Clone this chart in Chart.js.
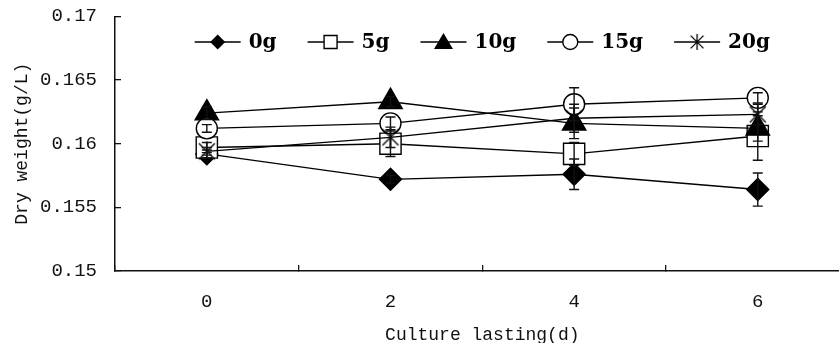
<!DOCTYPE html>
<html>
<head>
<meta charset="utf-8">
<script src="https://cdn.jsdelivr.net/npm/chart.js@4/dist/chart.umd.min.js"></script>
<style>
  html, body { margin: 0; padding: 0; background: #fff; overflow: hidden; }
</style>
</head>
<body>
<!-- wider than the window: the x axis runs on past the right edge -->
<canvas id="myChart" width="866" height="346"></canvas>
<script>
// culture time (days) and dry weight per dose
const days = ['0', '2', '4', '6'];
const doses = ['0g', '5g', '10g', '15g', '20g'];

const dw0g = [0.1592, 0.1572, 0.1576, 0.1564];
const dw5g = [0.1597, 0.1600, 0.1592, 0.1606];
const dw10g = [0.1624, 0.1633, 0.1616, 0.1612];
const dw15g = [0.1612, 0.1616, 0.1631, 0.1636];
const dw20g = [0.1594, 0.1605, 0.1620, 0.1623];

// standard deviations
const sd0g = [0.0003, 0.0003, 0.0012, 0.0013];
const sd5g = [0.0004, 0.0010, 0.0009, 0.0019];
const sd10g = [0.0005, 0.0004, 0.0012, 0.0010];
const sd15g = [0.0003, 0.0005, 0.0013, 0.0004];
const sd20g = [0.0003, 0.0008, 0.0011, 0.0008];

const yTicks = [0.15, 0.155, 0.16, 0.165, 0.17];

const values = [dw0g, dw5g, dw10g, dw15g, dw20g];
const errors = [sd0g, sd5g, sd10g, sd15g, sd20g];

// asterisk marker (vertical bar + X)
function asterisk(r) {
  const c = document.createElement('canvas');
  c.width = c.height = 2 * r + 4;
  const g = c.getContext('2d');
  const m = c.width / 2;
  const d = r * 0.8;
  g.strokeStyle = '#000';
  g.lineWidth = 1.3;
  g.beginPath();
  g.moveTo(m, m - r); g.lineTo(m, m + r);
  g.moveTo(m - d, m - d); g.lineTo(m + d, m + d);
  g.moveTo(m - d, m + d); g.lineTo(m + d, m - d);
  g.stroke();
  return c;
}

const markers = [
  { style: 'rectRot', radius: 11, fill: '#000' },
  { style: 'rect', radius: 15, fill: '#fff' },
  { style: 'triangle', radius: 13.5, fill: '#000' },
  { style: 'circle', radius: 10.5, fill: '#fff' },
  { style: asterisk(10), radius: 10, fill: '#fff' }
];

// small line + marker sample, 46px long, centred on (x, y)
function drawSample(g, i, x, y) {
  g.save();
  g.strokeStyle = '#000';
  g.lineWidth = 1.4;
  g.beginPath(); g.moveTo(x - 23, y); g.lineTo(x + 23, y); g.stroke();
  g.fillStyle = markers[i].fill;
  g.beginPath();
  if (i === 0) {
    const s = 7.5;
    g.moveTo(x, y - s); g.lineTo(x + s, y); g.lineTo(x, y + s); g.lineTo(x - s, y); g.closePath();
    g.fill();
  } else if (i === 1) {
    g.rect(x - 6.5, y - 6.5, 13, 13); g.fill(); g.stroke();
  } else if (i === 2) {
    g.moveTo(x, y - 9); g.lineTo(x + 9.5, y + 7); g.lineTo(x - 9.5, y + 7); g.closePath();
    g.fill();
  } else if (i === 3) {
    g.arc(x, y, 7.5, 0, Math.PI * 2); g.fill(); g.stroke();
  } else {
    g.drawImage(asterisk(8), x - 10, y - 10);
  }
  g.restore();
}

// one-row legend drawn inside the top of the plot
const innerLegend = {
  id: 'innerLegend',
  afterDraw(chart) {
    const { ctx, chartArea } = chart;
    const font = 'bold 20px "DejaVu Serif"';
    const gapText = 8, gapItem = 31, sample = 46, y = 42;
    ctx.save();
    ctx.font = font;
    const widths = doses.map(t => sample + gapText + ctx.measureText(t).width);
    const total = widths.reduce((a, b) => a + b, 0) + gapItem * (doses.length - 1);
    let x = (chartArea.left + chartArea.right) / 2 - total / 2;
    ctx.fillStyle = '#000';
    ctx.textBaseline = 'middle';
    ctx.textAlign = 'left';
    doses.forEach((t, i) => {
      drawSample(ctx, i, x + sample / 2, y);
      ctx.fillText(t, x + sample + gapText, y + 1);
      x += widths[i] + gapItem;
    });
    ctx.restore();
  }
};

const errorBars = {
  id: 'errorBars',
  afterDatasetsDraw(chart) {
    const { ctx, scales: { y } } = chart;
    ctx.save();
    ctx.strokeStyle = '#111';
    ctx.lineWidth = 1.4;
    chart.data.datasets.forEach((ds, i) => {
      const meta = chart.getDatasetMeta(i);
      meta.data.forEach((pt, j) => {
        const v = ds.data[j], e = errors[i][j];
        const top = y.getPixelForValue(v + e);
        const bot = y.getPixelForValue(v - e);
        ctx.beginPath();
        ctx.moveTo(pt.x, top); ctx.lineTo(pt.x, bot);
        ctx.moveTo(pt.x - 5, top); ctx.lineTo(pt.x + 5, top);
        ctx.moveTo(pt.x - 5, bot); ctx.lineTo(pt.x + 5, bot);
        ctx.stroke();
      });
    });
    ctx.restore();
  }
};

// fixed axis box sizes, without the label overhang the scales add
function fixX(s) { s.height = 75; s.paddingLeft = s.paddingRight = 0; }
function fixY(s) { s.width = 115; s.paddingTop = s.paddingBottom = 0; }

const tickFont = { family: 'Liberation Mono', size: 19 };
const titleFont = { family: 'Liberation Mono', size: 18 };

var ctx = document.getElementById('myChart');

var myChart = new Chart(ctx, {
  type: 'line',
  data: {
    labels: days,
    datasets: values.map((v, i) => ({
      label: doses[i],
      data: v,
      borderColor: '#000',
      borderWidth: 1.4,
      backgroundColor: markers[i].fill,
      pointStyle: markers[i].style,
      pointRadius: markers[i].radius,
      pointBorderColor: '#000',
      pointBorderWidth: 1.4,
      pointBackgroundColor: markers[i].fill,
      tension: 0,
      order: doses.length - i
    }))
  },
  options: {
    responsive: false,
    animation: false,
    layout: { padding: { top: 15, left: 0, right: 0, bottom: 0 } },
    plugins: {
      tooltip: { enabled: false },
      legend: { display: false }
    },
    scales: {
      x: {
        type: 'category',
        offset: true,
        afterFit: fixX,
        grid: { offset: true, drawOnChartArea: false, tickLength: -6, color: '#111', lineWidth: 1.3 },
        border: { color: '#111', width: 1.5 },
        ticks: { color: '#111', font: tickFont, padding: 26, maxRotation: 0 },
        title: {
          display: true, text: 'Culture lasting(d)', color: '#111', font: titleFont,
          padding: { top: 0, bottom: 0 }
        }
      },
      y: {
        min: yTicks[0],
        max: yTicks[yTicks.length - 1],
        afterFit: fixY,
        afterBuildTicks: s => { s.ticks = yTicks.map(v => ({ value: v })); },
        grid: { drawOnChartArea: false, tickLength: -6, color: '#111', lineWidth: 1.3 },
        border: { color: '#111', width: 1.5 },
        ticks: {
          color: '#111', font: tickFont, padding: 24,
          callback: v => String(+v.toFixed(3))
        },
        title: {
          display: true, text: 'Dry weight(g/L)', color: '#111', font: titleFont,
          padding: { top: 11, bottom: 0 }
        }
      }
    }
  },
  plugins: [errorBars, innerLegend]
});
</script>
</body>
</html>
